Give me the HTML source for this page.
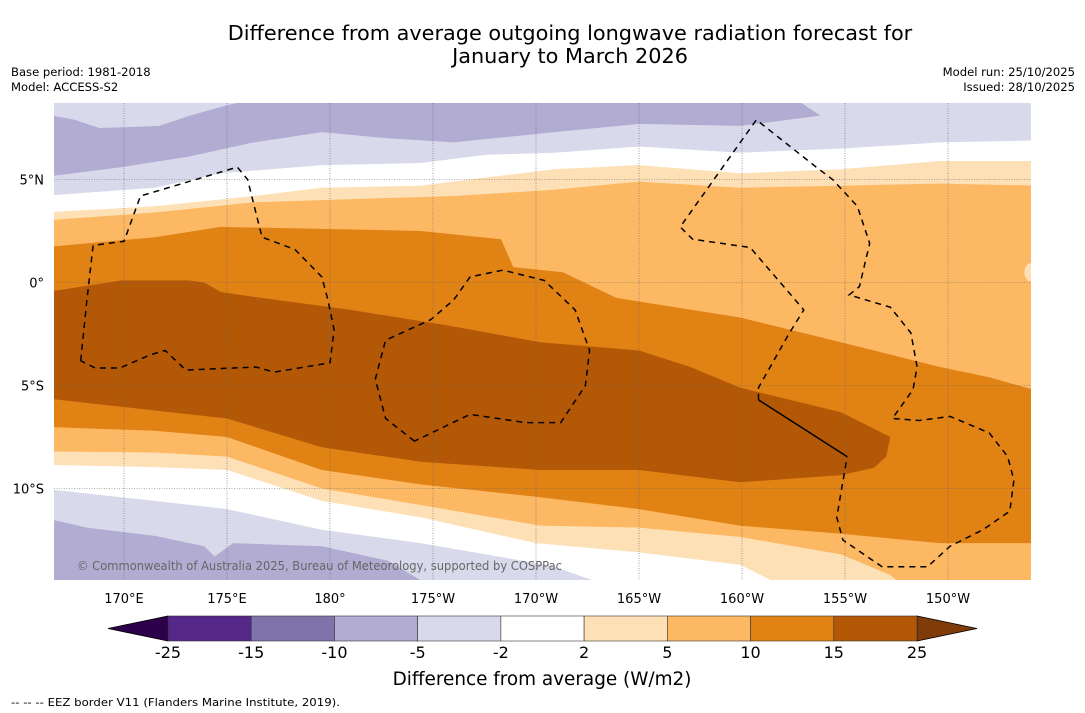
<!DOCTYPE html>
<html><head><meta charset="utf-8">
<style>
html,body{margin:0;padding:0;background:#fff;}
body{width:1085px;height:713px;position:relative;overflow:hidden;font-family:"DejaVu Sans","Liberation Sans",sans-serif;color:#000;}
.t{position:absolute;white-space:nowrap;}
svg text{font-family:"DejaVu Sans","Liberation Sans",sans-serif;}
</style></head>
<body>
<div class="t" style="left:0;width:1140px;top:22px;text-align:center;font-size:20.8px;line-height:23px;">Difference from average outgoing longwave radiation forecast for<br>January to March 2026</div>
<div class="t" style="left:11px;top:65px;font-size:11.6px;line-height:15px;">Base period: 1981-2018<br>Model: ACCESS-S2</div>
<div class="t" style="right:10px;top:65px;font-size:11.6px;line-height:15px;text-align:right;">Model run: 25/10/2025<br>Issued: 28/10/2025</div>
<svg id="chart" width="1085" height="713" style="position:absolute;left:0;top:0;" xmlns="http://www.w3.org/2000/svg"></svg>
<script>
// axis / data arrays
const lonTicks=[170,175,180,185,190,195,200,205,210];
const lonLabels=["170°E","175°E","180°","175°W","170°W","165°W","160°W","155°W","150°W"];
const latTicks=[5,0,-5,-10];
const latLabels=["5°N","0°","5°S","10°S"];
const levels=[-25,-15,-10,-5,-2,2,5,10,15,25];
const levelColors=["#542788","#8073ac","#b2abd2","#d8daeb","#ffffff","#fee0b6","#fdb863","#e08214","#b35806"];
const lowExtColor="#2d004b", highExtColor="#7f3b08";
// contour boundaries (lon, lat)
const topM2=[[166,4.2],[171.5,4.6],[174.7,5.3],[179.6,5.7],[184.4,5.8],[187.6,6.2],[190.9,6.3],[195.0,6.6],[199.9,6.3],[204.8,6.5],[209.6,6.8],[214.5,6.9]];
const topM5=[[166,8.2],[167.6,7.9],[168.8,7.5],[170.3,7.55],[171.7,7.6],[173.2,8.1],[175.0,8.6],[176.3,8.9],[202.6,8.9],[203.8,8.1],[199.9,7.6],[195.0,7.7],[190.9,7.3],[186.0,6.8],[182.8,7.0],[179.6,7.3],[176.3,6.8],[173.1,6.1],[169.9,5.6],[166,5.1]];
const p2Top=[[166,3.4],[171.5,3.7],[176.3,4.2],[179.6,4.6],[184.4,4.7],[187.6,5.1],[190.9,5.5],[195.0,5.7],[199.9,5.3],[204.8,5.5],[209.6,5.9],[214.5,5.9]];
const p2Bot=[[166,-8.85],[171.5,-8.96],[175.0,-9.1],[179.6,-10.6],[184.4,-11.4],[190.0,-12.65],[195.0,-13.1],[199.9,-13.7],[202.3,-14.9],[214.5,-15]];
const p5Top=[[166,3.0],[171.5,3.4],[176.3,3.9],[179.6,4.0],[182.8,4.1],[186.0,4.2],[190.9,4.5],[195.0,4.9],[199.9,4.6],[204.8,4.7],[209.6,4.8],[214.5,4.7]];
const p5Bot=[[166,-8.2],[171.5,-8.25],[175.0,-8.45],[179.6,-10.0],[184.4,-10.8],[190.2,-11.8],[195.0,-11.9],[199.9,-12.35],[204.8,-13.2],[207.2,-14.2],[208.0,-14.9],[214.5,-15]];
const p10Top=[[166,1.7],[171.5,2.2],[174.7,2.7],[179.6,2.6],[184.4,2.5],[188.3,2.1],[188.9,0.75],[191.3,0.5],[193.9,-0.75],[199.9,-1.7],[204.8,-2.9],[209.6,-4.1],[212.0,-4.6],[214.5,-5.3]];
const p10Bot=[[166,-7.0],[171.5,-7.2],[175.0,-7.5],[179.6,-9.1],[184.4,-9.8],[190.0,-10.4],[195.0,-11.0],[199.9,-11.8],[204.8,-12.2],[209.6,-12.65],[214.5,-12.65]];
const p15=[[166,-0.5],[169.9,0.1],[173.1,0.1],[173.9,0],[174.7,-0.46],[176.3,-0.7],[181.0,-1.33],[185.8,-2.1],[190.2,-2.9],[195.0,-3.3],[197.5,-4.1],[199.9,-5.1],[204.8,-6.3],[207.2,-7.5],[207.0,-8.45],[206.4,-9.0],[204.8,-9.35],[199.9,-9.7],[195.0,-9.1],[190.2,-9.1],[184.4,-8.7],[179.6,-8.0],[175.0,-6.6],[166,-5.6]];
const botM2=[[166,-10.0],[171.5,-10.6],[175.0,-11.0],[179.6,-12.0],[184.4,-12.65],[189.3,-13.5],[190.9,-13.8],[194.0,-14.9]];
const botM5=[[166,-11.4],[168.2,-11.9],[171.5,-12.3],[173.9,-12.8],[174.4,-13.3],[175.3,-12.65],[179.6,-12.8],[182.8,-13.5],[184.4,-14.45],[184.9,-14.9]];
// EEZ borders
const eez1=[[167.9,-3.8],[168.2,-0.85],[168.5,1.8],[170.0,2.0],[170.8,4.2],[175.5,5.6],[176.0,5.0],[176.7,2.2],[178.3,1.6],[179.6,0.27],[179.9,-0.85],[180.2,-2.3],[180.0,-3.9],[177.3,-4.35],[176.4,-4.1],[173.0,-4.25],[172.0,-3.3],[171.3,-3.5],[169.8,-4.15],[168.6,-4.15],[167.9,-3.8]];
const eez2=[[184.1,-7.7],[182.7,-6.6],[182.2,-4.7],[182.7,-2.8],[184.9,-1.8],[186.0,-0.85],[186.8,0.27],[188.4,0.6],[190.4,0.1],[191.9,-1.33],[192.6,-3.3],[192.4,-5.0],[191.2,-6.8],[189.5,-6.8],[186.8,-6.4],[184.1,-7.7]];
const eez3=[[200.8,-5.7],[200.8,-5.1],[202.3,-2.45],[203.0,-1.33],[200.4,1.7],[197.6,2.1],[197.0,2.7],[200.7,7.9],[203.6,5.6],[204.4,5.0],[205.6,3.7],[206.2,1.9],[205.7,-0.2],[205.2,-0.6],[207.2,-1.2],[208.2,-2.45],[208.5,-4.1],[208.3,-5.2],[207.3,-6.6],[208.6,-6.7],[210.1,-6.5],[212.0,-7.3],[212.9,-8.45],[213.2,-9.6],[213.0,-11.1],[211.7,-12.0],[210.1,-12.8],[209.0,-13.8],[206.8,-13.8],[204.9,-12.5],[204.6,-11.4],[205.1,-8.45]];
const eezSolid=[[200.8,-5.7],[205.1,-8.45]];

const L=54,R=1031,T=103,B=580;
const X=lon=>124+(lon-170)*20.6;
const Y=lat=>282.5-lat*20.6;
const NS="http://www.w3.org/2000/svg";
const svg=document.getElementById('chart');
function mk(tag,attrs,parent){const e=document.createElementNS(NS,tag);for(const k in attrs)e.setAttribute(k,attrs[k]);(parent||svg).appendChild(e);return e;}
const pts=a=>a.map(p=>X(p[0]).toFixed(1)+','+Y(p[1]).toFixed(1)).join(' ');
const defs=mk('defs',{});
const cp=mk('clipPath',{id:'mapclip'},defs);
mk('rect',{x:L,y:T,width:R-L,height:B-T},cp);
const g=mk('g',{'clip-path':'url(#mapclip)'});


mk('rect',{x:L,y:T,width:R-L,height:B-T,fill:'#fff'},g);
function band(poly,color,name){const p=mk('polygon',{points:pts(poly),fill:color},g);

}
band([[165,10]].concat(topM2).concat([[215,10]]),levelColors[3],'band-top-minus2');
band(topM5,levelColors[2],'band-top-minus5');
band(p2Top.concat(p2Bot.slice().reverse()),levelColors[5],'band-plus2');
band(p5Top.concat(p5Bot.slice().reverse()),levelColors[6],'band-plus5');
band(p10Top.concat(p10Bot.slice().reverse()),levelColors[7],'band-plus10');
band(p15,levelColors[8],'band-plus15');
band([[165,-16]].concat(botM2).concat([[195,-16]]),levelColors[3],'band-bottom-minus2');
band([[165,-16]].concat(botM5).concat([[186,-16]]),levelColors[2],'band-bottom-minus5');
const bl=mk('ellipse',{cx:X(214),cy:Y(0.5),rx:6,ry:9,fill:levelColors[5]},g);


// gridlines
lonTicks.forEach((lon,i)=>{const l=mk('line',{x1:X(lon),x2:X(lon),y1:T,y2:B,stroke:'#666','stroke-width':0.6,'stroke-dasharray':'1,1.5'},g);


const t=mk('text',{x:X(lon),y:603,'text-anchor':'middle','font-size':13});t.textContent=lonLabels[i];

});
latTicks.forEach((lat,i)=>{const l=mk('line',{x1:L,x2:R,y1:Y(lat),y2:Y(lat),stroke:'#666','stroke-width':0.6,'stroke-dasharray':'1,1.5'},g);


const t=mk('text',{x:44,y:Y(lat)+5,'text-anchor':'end','font-size':13});t.textContent=latLabels[i];

});
// EEZ
[eez1,eez2,eez3].forEach(a=>{const p=mk('polyline',{points:pts(a),fill:'none',stroke:'#000','stroke-width':1.5,'stroke-dasharray':'6,5'},g);

});
const sl=mk('polyline',{points:pts(eezSolid),fill:'none',stroke:'#000','stroke-width':1.5},g);


const cr=mk('text',{x:77,y:570,'font-size':12,fill:'#666',textLength:485,lengthAdjust:'spacingAndGlyphs'},g);cr.textContent='© Commonwealth of Australia 2025, Bureau of Meteorology, supported by COSPPac';


// colorbar
const cbL=168,cbR=917,cbT=616,cbB=641,w=(cbR-cbL)/9;
const cb=mk('g',{});


const lt=mk('polygon',{points:`${cbL},${cbT} ${cbL},${cbB} 108,${(cbT+cbB)/2}`,fill:lowExtColor,stroke:'#000','stroke-width':0.8},cb);


const rt=mk('polygon',{points:`${cbR},${cbT} ${cbR},${cbB} 977,${(cbT+cbB)/2}`,fill:highExtColor,stroke:'#000','stroke-width':0.8},cb);


levelColors.forEach((c,i)=>{const r=mk('rect',{x:cbL+i*w,y:cbT,width:w,height:cbB-cbT,fill:c,stroke:'#333','stroke-width':0.6},cb);

});
levels.forEach((v,i)=>{const t=mk('text',{x:cbL+i*w,y:658,'text-anchor':'middle','font-size':16},cb);t.textContent=v;

});
const ct=mk('text',{x:542,y:685,'text-anchor':'middle','font-size':18.4});ct.textContent='Difference from average (W/m2)';


const fn=mk('text',{x:11,y:706,'font-size':11,textLength:329,lengthAdjust:'spacingAndGlyphs'});fn.textContent='--  --  -- EEZ border V11 (Flanders Marine Institute, 2019).';


</script>
</body></html>
